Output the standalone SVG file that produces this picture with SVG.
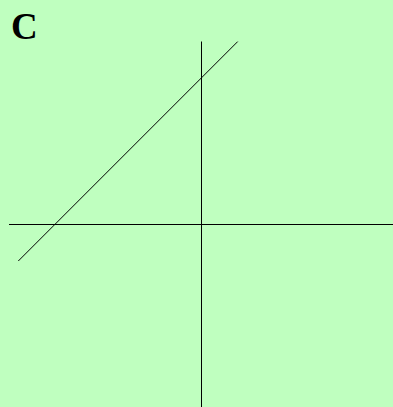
<svg xmlns="http://www.w3.org/2000/svg" width="393" height="407" viewBox="0 0 393 407">
<style>
.ax{stroke:#000;stroke-width:1;fill:none}
.lbl{font-family:"Liberation Serif","DejaVu Serif",serif;font-weight:bold;fill:#000}
</style>
<rect x="0" y="0" width="393" height="407" fill="#bfffbf"/>
<text class="lbl" x="11" y="39" font-size="37">C</text>
<g id="connectors">
<line class="ax" x1="9" y1="224.5" x2="393" y2="224.5"/>
<line class="ax" x1="201.5" y1="41.5" x2="201.5" y2="407"/>
<line class="ax" x1="18.3" y1="261" x2="237.7" y2="41.6"/>
</g>
</svg>
